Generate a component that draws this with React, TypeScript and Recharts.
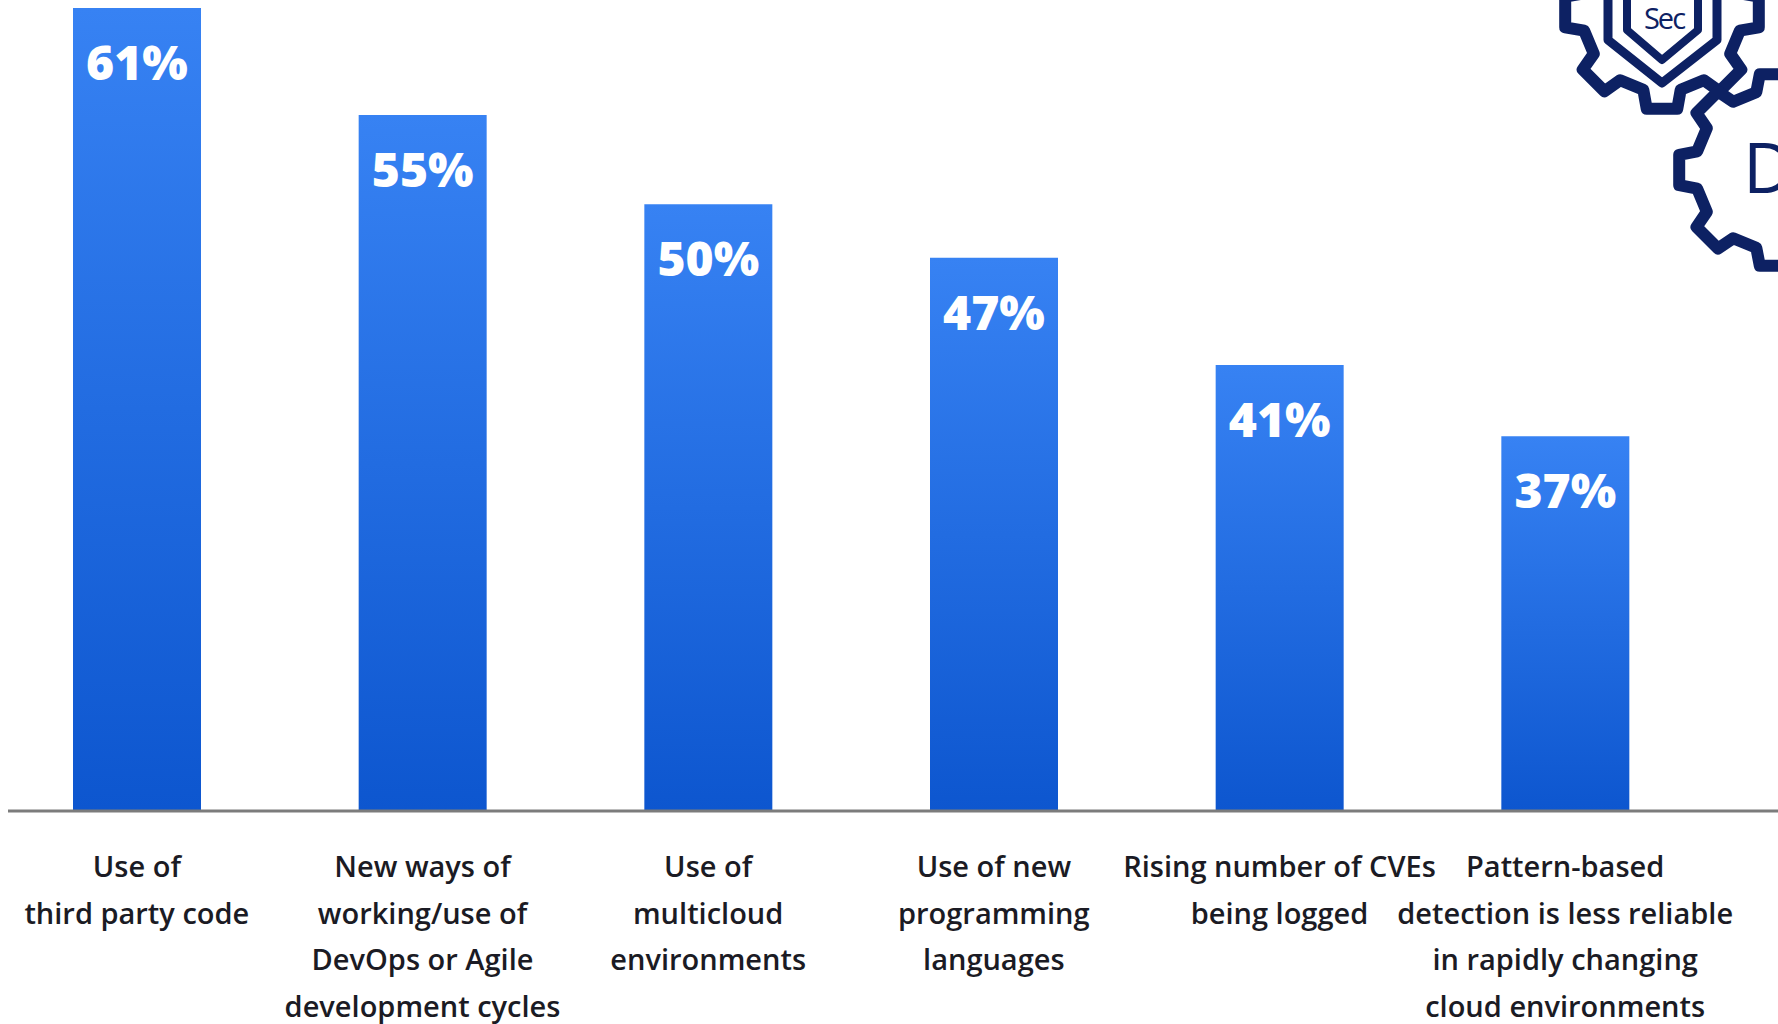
import { Bar, BarChart, LabelList, XAxis, YAxis } from "recharts";

const categories = [
  "Use of\nthird party code",
  "New ways of\nworking/use of\nDevOps or Agile\ndevelopment cycles",
  "Use of\nmulticloud\nenvironments",
  "Use of new\nprogramming\nlanguages",
  "Rising number of CVEs\nbeing logged",
  "Pattern-based\ndetection is less reliable\nin rapidly changing\ncloud environments",
];
const shares = [61, 55, 50, 47, 41, 37];
const valueLabels = ["61%", "55%", "50%", "47%", "41%", "37%"];

const data = categories.map((name, i) => ({ name, share: shares[i], label: valueLabels[i] }));

const NAVY = "#0d2163";

// simple gear outline for the corner logo
const gearPath = (cx: number, cy: number, R: number, r: number, n: number) => {
  const pts: string[] = [];
  const step = (Math.PI * 2) / n;
  for (let i = 0; i < n; i++) {
    const a = i * step;
    const seq: [number, number][] = [
      [a - step * 0.3, r],
      [a - step * 0.2, R],
      [a + step * 0.2, R],
      [a + step * 0.3, r],
    ];
    seq.forEach(([ang, rad]) => {
      pts.push(`${(cx + rad * Math.cos(ang)).toFixed(1)},${(cy + rad * Math.sin(ang)).toFixed(1)}`);
    });
  }
  return "M" + pts.join(" L") + " Z";
};

const CategoryTick = (props: any) => {
  const { x, y, payload } = props;
  const lines = String(payload.value).split("\n");
  return (
    <text x={x} y={y} textAnchor="middle" fill="#1b1b24" fontFamily="'Open Sans', sans-serif" fontWeight={600} fontSize={29}>
      {lines.map((ln, i) => (
        <tspan key={i} x={x} dy={i === 0 ? 58 : 46.5}>
          {ln}
        </tspan>
      ))}
    </text>
  );
};

const ValueLabel = (props: any) => {
  const { x, y, width, value } = props;
  return (
    <text x={x + width / 2} y={y + 72} textAnchor="middle" fill="#fff" fontFamily="'Open Sans', sans-serif" fontWeight={800} fontSize={48}>
      {value}
    </text>
  );
};

export default function App() {
  return (
    <div style={{ position: "absolute", left: 0, top: 0, width: 1778, height: 1024, background: "#fff", overflow: "hidden" }}>
      <BarChart width={1778} height={1024} data={data} margin={{ top: 8, right: 0, bottom: 0, left: 8 }}>
        <defs>
          <linearGradient id="barFill" x1="0" y1="0" x2="0" y2="1">
            <stop offset="0%" stopColor="#3782f3" />
            <stop offset="100%" stopColor="#0d56cf" />
          </linearGradient>
        </defs>
        <XAxis
          dataKey="name"
          height={213}
          interval={0}
          tickLine={false}
          axisLine={{ stroke: "#7c7c7c", strokeWidth: 3 }}
          padding={{ left: -14, right: 70 }}
          tick={<CategoryTick />}
        />
        <YAxis hide domain={[16, 61]} allowDataOverflow />
        <Bar dataKey="share" fill="url(#barFill)" barSize={128} isAnimationActive={false}>
          <LabelList dataKey="label" content={<ValueLabel />} />
        </Bar>
      </BarChart>
      <svg width={1778} height={1024} style={{ position: "absolute", left: 0, top: 0, pointerEvents: "none" }}>
        <path d={gearPath(1662, 12, 98, 80, 8)} fill="#fff" stroke={NAVY} strokeWidth={12} strokeLinejoin="round" />
        <path d="M1608,-10 L1608,40 L1662,83 L1717,40 L1717,-10" fill="none" stroke={NAVY} strokeWidth={9} strokeLinejoin="round" />
        <path d="M1627,-10 L1627,30 L1662,60 L1698,30 L1698,-10" fill="none" stroke={NAVY} strokeWidth={8} strokeLinejoin="round" />
        <text x={1664} y={29} textAnchor="middle" fill={NAVY} fontFamily="'Open Sans', sans-serif" fontSize={29} letterSpacing={-2}>
          Sec
        </text>
        <path d={gearPath(1775, 170, 97, 80, 8)} fill="#fff" stroke={NAVY} strokeWidth={12} strokeLinejoin="round" />
        <text x={1743} y={193} fill={NAVY} fontFamily="'Open Sans', sans-serif" fontSize={70}>
          D
        </text>
      </svg>
    </div>
  );
}
